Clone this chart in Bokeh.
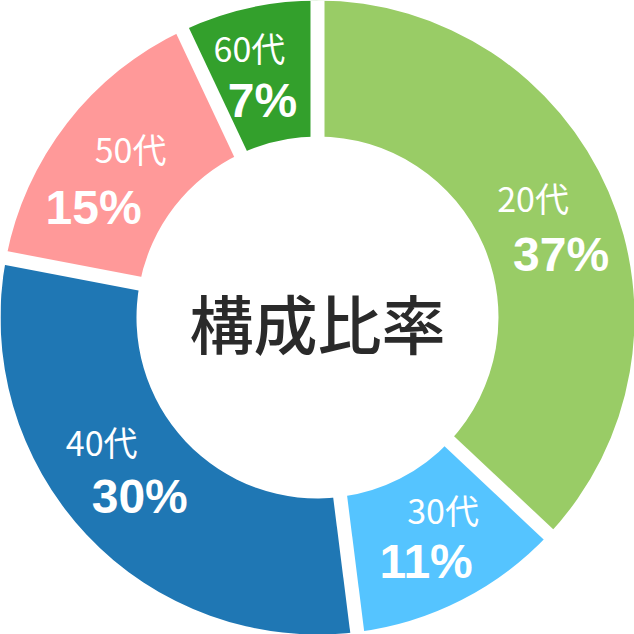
import numpy as np
from bokeh.plotting import figure
from bokeh.models import Range1d, ColumnDataSource
from bokeh.core.properties import value
from bokeh.embed import file_html
from bokeh.resources import INLINE

# ---- data ----
categories = ["20代", "30代", "40代", "50代", "60代"]
shares = [37, 11, 30, 15, 7]
center_title = "構成比率"

# ---- style ----
colors = ["#99CC66", "#55C4FF", "#1F77B4", "#FF9999", "#33A02C"]
# pixel nudges of the two label lines from each slice's label anchor (screen px, y down)
name_nudge = [(-12, -22), (13, -29), (-35, -46), (9, -17), (-14, -28)]
pct_nudge = [(16, 35), (-4, 23), (3, 9), (-28, 42), (-1, 25)]

SIZE = 634
REF = 634
s = SIZE / REF

p = figure(width=SIZE, height=SIZE, x_range=Range1d(0, REF), y_range=Range1d(0, REF),
           output_backend="svg", toolbar_location=None, min_border=0)
p.axis.visible = False
p.grid.visible = False
p.outline_line_color = None
p.background_fill_color = "white"
p.border_fill_color = "white"

cx, cy = REF / 2, REF / 2
R_out, R_in, R_lab = 317, 181, 248
gap = 14

frac = np.array(shares, dtype=float) / sum(shares)
cum = np.concatenate([[0.0], np.cumsum(frac)])
start = np.pi / 2 - 2 * np.pi * cum[:-1]
end = np.pi / 2 - 2 * np.pi * cum[1:]
mid = np.pi / 2 - 2 * np.pi * (cum[:-1] + frac / 2)

src = ColumnDataSource(dict(start=start, end=end, color=colors))
p.annular_wedge(x=cx, y=cy, inner_radius=R_in, outer_radius=R_out,
                start_angle="start", end_angle="end", direction="clock",
                fill_color="color", line_color=None, source=src)

# white gaps along slice boundaries
b = start
p.segment(x0=[cx] * len(b), y0=[cy] * len(b),
          x1=cx + (R_out + 10) * np.cos(b), y1=cy + (R_out + 10) * np.sin(b),
          line_color="white", line_width=gap * s)

ax = cx + R_lab * np.cos(mid)
ay = cy + R_lab * np.sin(mid)
name_x = [ax[i] + name_nudge[i][0] for i in range(len(ax))]
name_y = [ay[i] - name_nudge[i][1] for i in range(len(ay))]
pct_x = [ax[i] + pct_nudge[i][0] for i in range(len(ax))]
pct_y = [ay[i] - pct_nudge[i][1] for i in range(len(ay))]
pct_txt = [f"{v}%" for v in shares]

p.text(x=name_x, y=name_y, text=categories, text_color="white",
       text_font=value("Noto Sans CJK JP"),
       text_font_size=f"{34*s:.1f}px",
       text_align="center", text_baseline="middle")
p.text(x=pct_x, y=pct_y, text=pct_txt, text_color="white",
       text_font=value("Liberation Sans"), text_font_style="bold",
       text_font_size=f"{48*s:.1f}px",
       text_align="center", text_baseline="middle")

p.text(x=[cx], y=[cy - 3], text=[center_title], text_color="#2a2a2a",
       text_font=value("'Noto Sans CJK JP Medium', 'Noto Sans CJK JP'"),
       text_font_size=f"{64*s:.1f}px",
       text_align="center", text_baseline="middle")

open("out.html", "w").write(file_html(p, INLINE))
